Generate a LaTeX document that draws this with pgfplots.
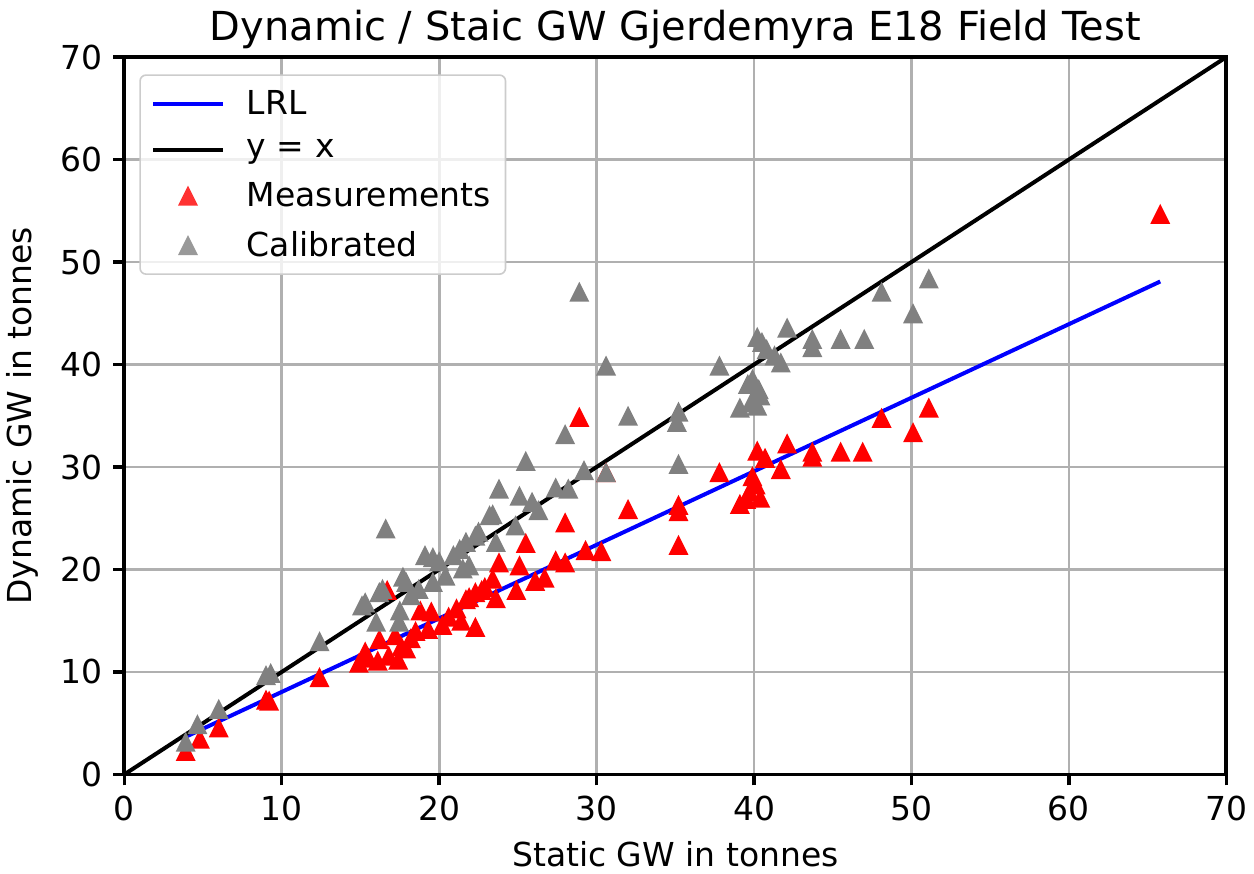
\documentclass[border=0pt]{standalone}
\usepackage{pgfplots}
\pgfplotsset{compat=1.18}
\usepackage{fontspec}
\setmainfont{DejaVu Sans}

% upward triangle whose bounding box is centred on the data point
\pgfdeclareplotmark{mtri}{%
  \pgfpathmoveto{\pgfqpoint{0pt}{\pgfplotmarksize}}%
  \pgfpathlineto{\pgfqpoint{-\pgfplotmarksize}{-\pgfplotmarksize}}%
  \pgfpathlineto{\pgfqpoint{\pgfplotmarksize}{-\pgfplotmarksize}}%
  \pgfpathclose
  \pgfusepathqfill}

\definecolor{calgray}{RGB}{128,128,128}
\definecolor{gridgray}{RGB}{176,176,176}

\pgfplotsset{
  linelegend/.style={legend image code/.code={\draw[##1] (0pt,0pt) -- (35pt,0pt);\path (44pt,0pt);}},
  marklegend/.style={legend image code/.code={\draw[##1] plot coordinates {(17.5pt,0pt)};\path (0pt,0pt) (44pt,0pt);}},
}

\pgfplotstableread{
x y
3.9 2.3
4.8 3.5
6.0 4.6
9.0 7.3
9.2 7.2
12.4 9.5
14.9 10.9
15.3 12.0
15.5 11.4
16.1 11.1
16.2 13.2
16.7 18.0
16.8 11.6
17.2 13.6
17.4 11.2
17.6 12.5
17.9 12.3
18.2 13.3
18.5 14.0
18.8 16.0
19.3 14.2
19.5 15.9
20.2 14.6
20.6 15.4
21.1 16.2
21.4 15.0
21.7 17.1
21.9 17.3
22.3 14.4
22.3 17.8
22.7 18.0
22.9 18.3
23.4 19.1
23.6 17.2
23.8 20.7
24.9 18.0
25.1 20.4
25.5 22.6
26.1 18.9
26.7 19.2
27.4 20.9
28.0 20.7
28.0 24.6
28.9 34.9
29.3 21.9
30.3 21.8
30.6 29.5
32.0 25.9
35.2 22.4
35.2 25.7
35.2 26.3
37.8 29.5
39.1 26.4
39.5 26.9
39.7 27.6
39.9 29.1
40.1 28.3
40.2 31.6
40.4 27.0
40.7 30.9
41.7 29.8
42.1 32.3
43.7 31.0
43.7 31.5
45.5 31.5
46.9 31.5
48.1 34.8
50.1 33.4
51.1 35.8
65.8 54.7
}\measured

\pgfplotstableread{
x y
3.9 3.2
4.65 4.9
6.0 6.4
9.0 9.7
9.3 9.9
12.4 13.0
15.1 16.5
15.3 16.8
16.0 14.9
16.2 17.8
16.4 18.1
16.6 24.0
17.45 14.9
17.5 16.0
17.7 19.3
17.9 18.8
18.2 17.5
18.7 18.1
19.1 21.4
19.6 21.2
19.6 18.8
20.0 20.8
20.4 19.4
20.9 21.4
21.3 22.0
21.5 20.1
21.7 22.7
21.9 20.4
22.3 23.3
22.5 23.7
23.2 25.3
23.4 25.4
23.6 22.7
23.8 27.9
24.85 24.3
25.1 27.2
25.5 30.6
25.9 26.6
26.3 25.8
27.4 28.0
28.0 33.2
28.2 27.9
28.9 47.1
29.2 29.7
30.6 29.5
30.6 39.9
32.0 35.0
35.1 34.4
35.2 35.4
35.2 30.3
37.8 39.9
39.1 35.8
39.6 38.1
39.8 36.3
39.9 38.6
40.2 36.0
40.3 37.6
40.4 37.0
40.2 42.7
40.5 42.2
40.8 41.5
41.3 40.9
41.7 40.2
42.1 43.6
43.7 42.5
43.7 41.7
45.5 42.5
47.0 42.5
48.1 47.1
50.1 45.0
51.1 48.4
}\calibrated

\begin{document}
\begin{tikzpicture}
\begin{axis}[
  scale only axis,
  width=551.5pt, height=359pt,
  xmin=0, xmax=70, ymin=0, ymax=70,
  xtick={0,10,...,70}, ytick={0,10,...,70},
  /pgf/number format/assume math mode=true,
  tick label style={font=\fontsize{16.5}{19}\selectfont},
  yticklabel style={xshift=-2pt},
  xticklabel style={yshift=-2pt},
  label style={font=\fontsize{16.5}{19}\selectfont},
  title style={font=\fontsize{20}{23}\selectfont, inner ysep=5pt, yshift=-7pt},
  title={Dynamic / Staic GW Gjerdemyra E18 Field Test},
  xlabel={Static GW in tonnes},
  ylabel={Dynamic GW in tonnes},
  xlabel style={yshift=-3pt},
  ylabel style={yshift=4pt},
  axis line style={line width=1.9pt, black},
  tick align=outside,
  xtick pos=lower, ytick pos=left,
  major tick length=5.5pt,
  tick style={line width=1.7pt, black},
  grid=major,
  major grid style={line width=1.4pt, gridgray},
  legend cell align=left,
  legend style={
    font=\fontsize{16.5}{19}\selectfont,
    draw=gray!40, rounded corners=3pt, line width=0.8pt,
    fill=white, fill opacity=0.8, text opacity=1,
    at={(0.0136,0.976)}, anchor=north west,
    inner xsep=5.5pt, inner ysep=5.5pt,
    row sep=7pt,
  },
]
% legend entries, in the order they are listed
\addlegendimage{blue, line width=2pt, linelegend}
\addlegendentry{LRL}
\addlegendimage{black, line width=2pt, linelegend}
\addlegendentry{y = x}
\addlegendimage{only marks, mark=mtri, mark size=5pt, red, marklegend}
\addlegendentry{Measurements}
\addlegendimage{only marks, mark=mtri, mark size=5pt, calgray, marklegend}
\addlegendentry{Calibrated}

% scatter data
\addplot[forget plot, only marks, mark=mtri, mark size=5pt, red] table[x=x, y=y] {\measured};
\addplot[forget plot, only marks, mark=mtri, mark size=5pt, calgray] table[x=x, y=y] {\calibrated};

% linear regression line and identity line
\addplot[forget plot, blue, line width=2pt] coordinates {(3.8,3.6) (65.8,48.1)};
\addplot[forget plot, black, line width=2pt] coordinates {(0,0) (70,70)};
\end{axis}
\end{tikzpicture}
\end{document}
